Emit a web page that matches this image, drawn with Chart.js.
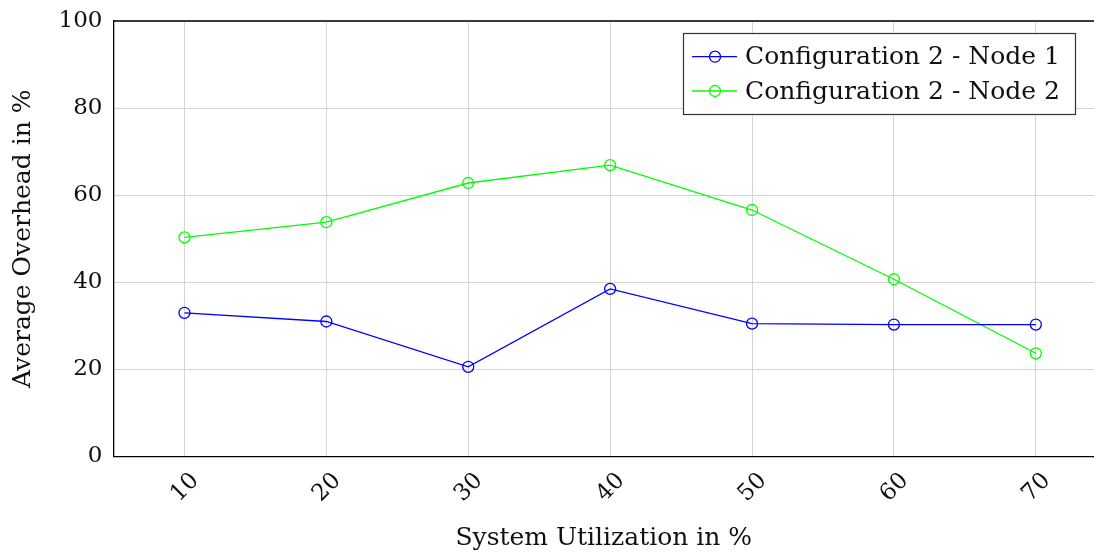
<!DOCTYPE html>
<html>
<head>
<meta charset="utf-8">
<script src="https://cdn.jsdelivr.net/npm/chart.js@4.4.1/dist/chart.umd.min.js"></script>
<style>
  html, body { margin: 0; padding: 0; background: #fff; }
  #wrap { width: 1094px; height: 559px; }
</style>
</head>
<body>
<div id="wrap"><canvas id="grafico" width="1094" height="559"></canvas></div>
<script>
// values
var utilizacao = [10, 20, 30, 40, 50, 60, 70];
var node1 = [33.0, 31.0, 20.6, 38.5, 30.5, 30.3, 30.3];
var node2 = [50.3, 53.8, 62.8, 66.9, 56.6, 40.7, 23.7];
var nomes = ["Configuration 2 - Node 1", "Configuration 2 - Node 2"];
var yTicks = [0, 20, 40, 60, 80, 100];

var fonte = "'DejaVu Serif', 'Liberation Serif', serif";
var tamTicks = 23;
var tamTexto = 25;

function pares(valores) {
  return utilizacao.map(function(x, i) { return { x: x, y: valores[i] }; });
}

function serie(label, valores, cor) {
  return {
    label: label,
    data: pares(valores),
    borderColor: cor,
    backgroundColor: 'rgba(0,0,0,0)',
    borderWidth: 1.3,
    pointRadius: 5.5,
    pointHoverRadius: 5.5,
    pointBorderWidth: 1.3,
    pointBorderColor: cor,
    pointBackgroundColor: 'rgba(0,0,0,0)',
    tension: 0
  };
}

// frame on top + legend box inside the plot, like pgfplots
var molduraLegenda = {
  id: 'molduraLegenda',
  afterDraw: function(chart) {
    var ctx = chart.ctx;
    var a = chart.chartArea;
    ctx.save();
    ctx.strokeStyle = '#000';
    ctx.lineWidth = 1.3;
    ctx.beginPath();
    ctx.moveTo(a.left, a.top);
    ctx.lineTo(a.right, a.top);
    ctx.stroke();

    // legend
    var bx = 683.5, by = 33.5, bw = 392, bh = 81;
    ctx.fillStyle = '#fff';
    ctx.fillRect(bx, by, bw, bh);
    ctx.strokeStyle = '#333';
    ctx.lineWidth = 1.2;
    ctx.strokeRect(bx, by, bw, bh);
    var linhas = [56.7, 91];
    chart.data.datasets.forEach(function(ds, i) {
      var y = linhas[i];
      ctx.strokeStyle = ds.borderColor;
      ctx.lineWidth = 1.3;
      ctx.beginPath();
      ctx.moveTo(692, y);
      ctx.lineTo(737, y);
      ctx.stroke();
      ctx.beginPath();
      ctx.arc(715, y, 5.5, 0, Math.PI * 2);
      ctx.stroke();
      ctx.fillStyle = '#111';
      ctx.font = tamTexto + 'px ' + fonte;
      ctx.textBaseline = 'middle';
      ctx.textAlign = 'left';
      ctx.fillText(ds.label, 745, y + 1);
    });
    ctx.restore();
  }
};

window.onload = function() {
  var ctx = document.getElementById('grafico').getContext('2d');
  var myChart = new Chart(ctx, {
    type: 'line',
    data: {
      datasets: [
        serie(nomes[0], node1, '#0000ff'),
        serie(nomes[1], node2, '#00ff00')
      ]
    },
    options: {
      responsive: false,
      animation: false,
      layout: { autoPadding: false, padding: { top: 21, right: 0, left: 0, bottom: 0 } },
      plugins: {
        legend: { display: false },
        tooltip: { enabled: false }
      },
      scales: {
        x: {
          type: 'linear',
          min: 5,
          max: 74.1,
          afterFit: function(scale) {
            scale.height = 102.5;
            scale.paddingLeft = 0;
            scale.paddingRight = 0;
          },
          afterBuildTicks: function(scale) {
            scale.ticks = utilizacao.map(function(v) { return { value: v }; });
          },
          grid: { color: '#d4d4d4', lineWidth: 1, drawTicks: false },
          border: { color: '#000', width: 1.3 },
          ticks: {
            color: '#111',
            font: { family: fonte, size: tamTicks },
            minRotation: 45,
            maxRotation: 45,
            padding: 11,
            labelOffset: 11
          },
          title: {
            display: true,
            text: 'System Utilization in %',
            color: '#111',
            font: { family: fonte, size: tamTexto },
            padding: { top: 0, bottom: 6 }
          }
        },
        y: {
          min: 0,
          max: 100,
          afterFit: function(scale) {
            scale.width = 113.5;
            scale.paddingTop = 0;
            scale.paddingBottom = 0;
          },
          afterBuildTicks: function(scale) {
            scale.ticks = yTicks.map(function(v) { return { value: v }; });
          },
          grid: { color: '#d4d4d4', lineWidth: 1, drawTicks: false },
          border: { color: '#000', width: 1.3 },
          ticks: {
            color: '#111',
            font: { family: fonte, size: tamTicks },
            padding: 11
          },
          title: {
            display: true,
            text: 'Average Overhead in %',
            color: '#111',
            font: { family: fonte, size: tamTexto },
            padding: { top: 8, bottom: 0 }
          }
        }
      }
    },
    plugins: [molduraLegenda]
  });
};
</script>
</body>
</html>
